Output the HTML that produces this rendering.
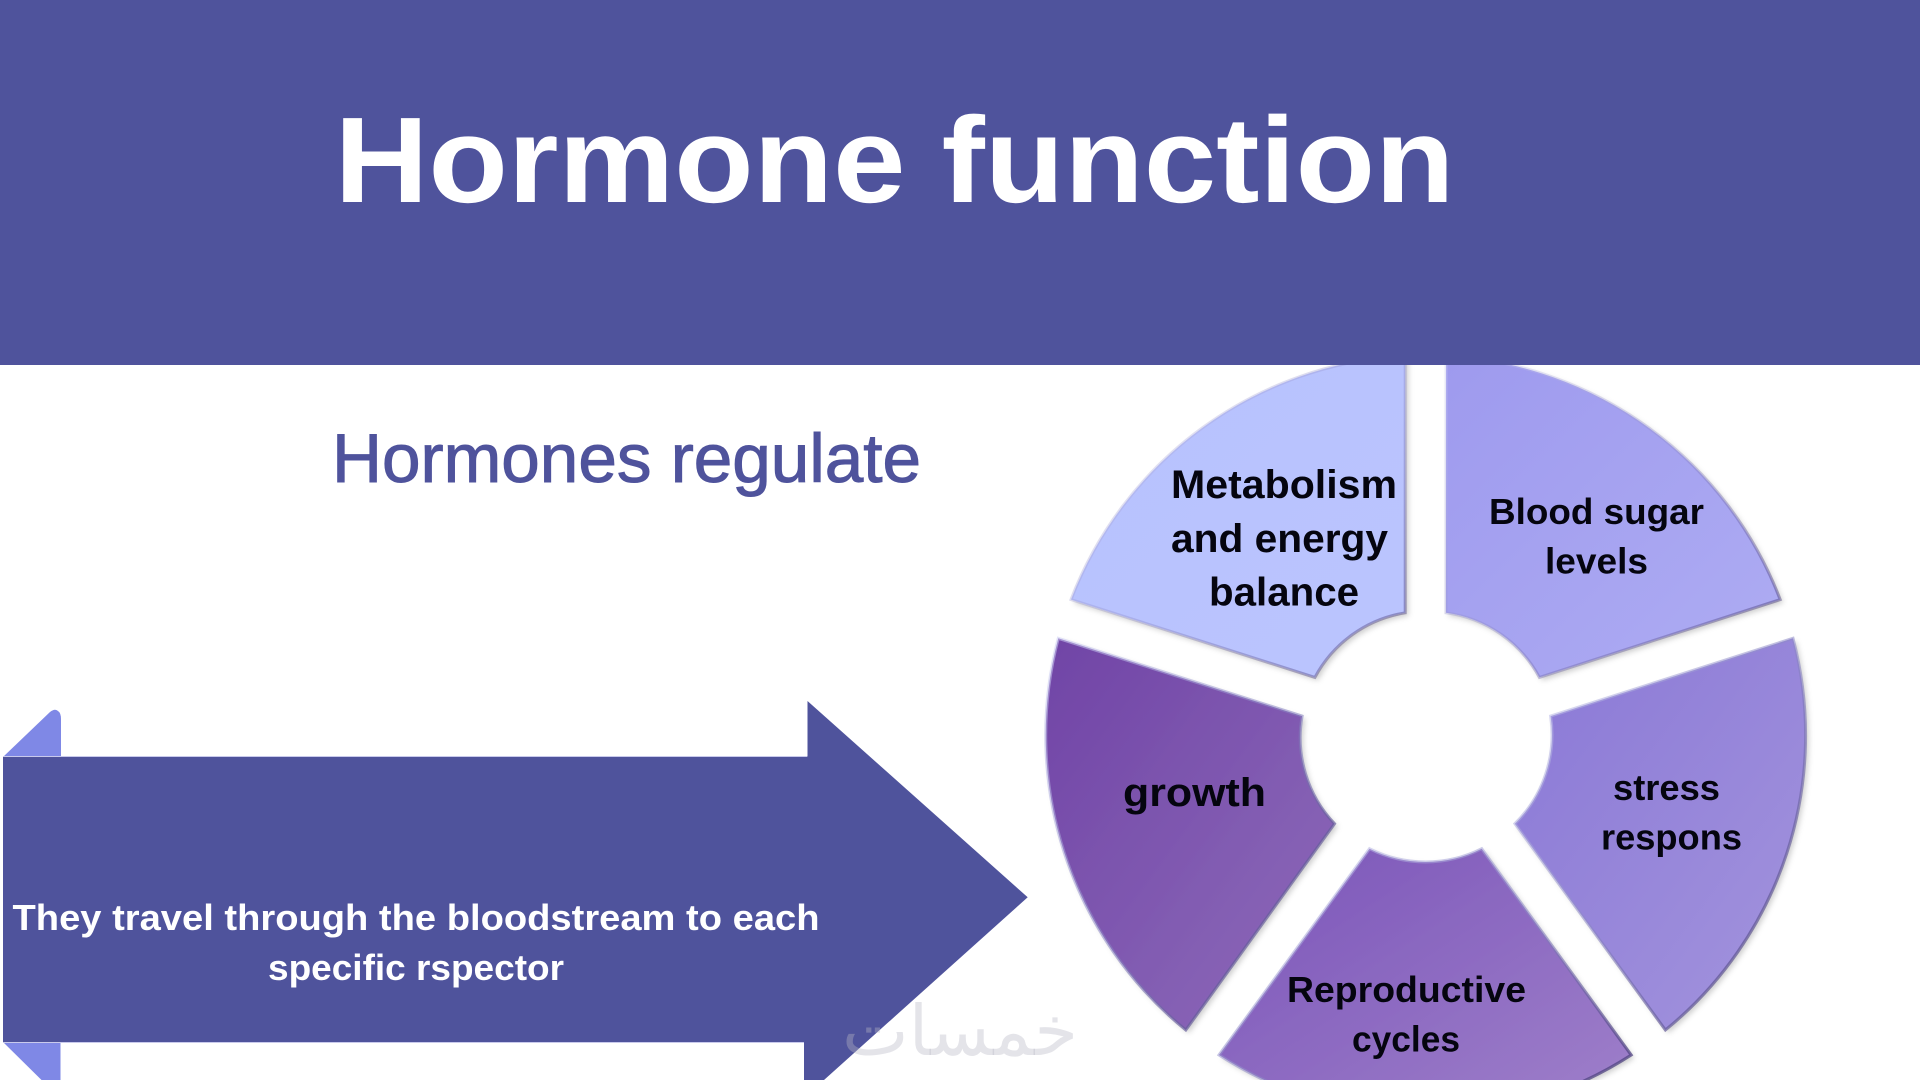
<!DOCTYPE html>
<html lang="en">
<head>
<meta charset="utf-8">
<title>Hormone function</title>
<style>
html,body{margin:0;padding:0;background:#fff;width:1920px;height:1080px;overflow:hidden}
svg{display:block}
text{font-family:"Liberation Sans",sans-serif}
.w{font-weight:700;fill:#05050f;text-anchor:start}
</style>
</head>
<body>
<svg xmlns="http://www.w3.org/2000/svg" width="1920" height="1080" viewBox="0 0 1920 1080">
<defs>
<linearGradient id="gm" x1="0" y1="0" x2="1" y2="1"><stop offset="0" stop-color="#b7c2fe"/><stop offset="1" stop-color="#bbc4fe"/></linearGradient>
<linearGradient id="gb" x1="0" y1="0" x2="1" y2="1"><stop offset="0" stop-color="#9e9aee"/><stop offset="1" stop-color="#aeacf3"/></linearGradient>
<linearGradient id="gs" x1="0" y1="0" x2="1" y2="1"><stop offset="0" stop-color="#8a78d6"/><stop offset="1" stop-color="#a394dd"/></linearGradient>
<linearGradient id="gr" x1="0" y1="0" x2="1" y2="1"><stop offset="0" stop-color="#7b55b9"/><stop offset="1" stop-color="#9f80ca"/></linearGradient>
<linearGradient id="gg" x1="0" y1="0" x2="1" y2="1"><stop offset="0" stop-color="#7044a6"/><stop offset="1" stop-color="#8e6cba"/></linearGradient>
<linearGradient id="edge" x1="0" y1="0" x2="1" y2="1">
<stop offset="0" stop-color="#cfd0f5" stop-opacity=".55"/>
<stop offset=".5" stop-color="#8a86c4" stop-opacity=".55"/>
<stop offset="1" stop-color="#3d2f6d" stop-opacity=".8"/>
</linearGradient>
<filter id="sh" x="-5%" y="-5%" width="110%" height="110%">
<feDropShadow dx="3" dy="3" stdDeviation="3" flood-color="#000" flood-opacity=".2"/>
</filter>
</defs>

<g filter="url(#sh)">
<path fill="url(#gm)" d="M1405.2 355.6V612.8A125 125 0 0 0 1314.9 677.4L1071 599.6A380 380 0 0 1 1405.2 355.6Z"/>
<path fill="url(#gb)" d="M1446 355.6A380 380 0 0 1 1780.2 599.6L1539.4 677.4A125 125 0 0 0 1446 612.8Z"/>
<path fill="url(#gs)" d="M1550.6 716.1L1793 638.3A380 380 0 0 1 1665.4 1030L1514.9 823.7A125 125 0 0 0 1550.6 716.1Z"/>
<path fill="url(#gr)" d="M1369.5 848.7A125 125 0 0 0 1481.7 848.7L1631.2 1055A380 380 0 0 1 1219 1055Z"/>
<path fill="url(#gg)" d="M1302.1 716.1L1058.3 638.3A380 380 0 0 0 1185.8 1030L1334.5 823.7A125 125 0 0 1 1302.1 716.1Z"/>
</g>
<g fill="none" stroke="url(#edge)" stroke-width="3">
<path d="M1405.2 355.6V612.8A125 125 0 0 0 1314.9 677.4L1071 599.6A380 380 0 0 1 1405.2 355.6Z" stroke-opacity=".6"/>
<path d="M1446 355.6A380 380 0 0 1 1780.2 599.6L1539.4 677.4A125 125 0 0 0 1446 612.8Z" stroke-opacity=".65"/>
<path d="M1550.6 716.1L1793 638.3A380 380 0 0 1 1665.4 1030L1514.9 823.7A125 125 0 0 0 1550.6 716.1Z"/>
<path d="M1369.5 848.7A125 125 0 0 0 1481.7 848.7L1631.2 1055A380 380 0 0 1 1219 1055Z"/>
<path d="M1302.1 716.1L1058.3 638.3A380 380 0 0 0 1185.8 1030L1334.5 823.7A125 125 0 0 1 1302.1 716.1Z"/>
</g>

<rect x="0" y="0" width="1920" height="365" fill="#4f539c"/>

<text x="334.5" y="202" font-size="122" font-weight="700" fill="#fff" textLength="1120" lengthAdjust="spacingAndGlyphs">Hormone function</text>
<text x="332" y="482" font-size="69" fill="#4f539c" stroke="#4f539c" stroke-width="1" textLength="589" lengthAdjust="spacingAndGlyphs">Hormones regulate</text>

<path fill="#7f88e6" d="M3 757L50 712Q55 708 58 711Q61 713 61 719V757Z"/>
<path fill="#7f88e6" d="M3 1042H60.5V1080H41.5Z"/>
<path fill="#4f539c" d="M3 756.5H807.5V701L1027.7 897.3L824 1080H804V1042.3H3Z"/>
<path fill="none" stroke="#c9caec" stroke-width="1" d="M3 1042.5H804M3 756.5H807"/>

<text x="12.5" y="930" font-size="36.5" font-weight="700" fill="#fff" textLength="807" lengthAdjust="spacingAndGlyphs">They travel through the bloodstream to each</text>
<text x="268" y="980" font-size="36.5" font-weight="700" fill="#fff" textLength="296" lengthAdjust="spacingAndGlyphs">specific rspector</text>

<text x="842" y="1055" font-size="70" fill="#b9b9c4" fill-opacity=".38" style="font-family:'DejaVu Sans',sans-serif" textLength="236" lengthAdjust="spacingAndGlyphs">خمسات</text>

<text class="w" x="1171" y="498" font-size="39.5" textLength="226" lengthAdjust="spacingAndGlyphs">Metabolism</text>
<text class="w" x="1171" y="552" font-size="39.5" textLength="217" lengthAdjust="spacingAndGlyphs">and energy</text>
<text class="w" x="1209" y="605.5" font-size="39.5" textLength="150" lengthAdjust="spacingAndGlyphs">balance</text>
<text class="w" x="1489" y="524" font-size="36.5" textLength="215" lengthAdjust="spacingAndGlyphs">Blood sugar</text>
<text class="w" x="1545" y="573.5" font-size="36.5" textLength="103" lengthAdjust="spacingAndGlyphs">levels</text>
<text class="w" x="1613" y="800" font-size="36.5" textLength="107" lengthAdjust="spacingAndGlyphs">stress</text>
<text class="w" x="1601" y="849.5" font-size="36.5" textLength="141" lengthAdjust="spacingAndGlyphs">respons</text>
<text class="w" x="1287" y="1002" font-size="36.5" textLength="239" lengthAdjust="spacingAndGlyphs">Reproductive</text>
<text class="w" x="1352" y="1051.5" font-size="36.5" textLength="108" lengthAdjust="spacingAndGlyphs">cycles</text>
<text class="w" x="1123" y="806" font-size="40" textLength="143" lengthAdjust="spacingAndGlyphs">growth</text>
</svg>
</body>
</html>
